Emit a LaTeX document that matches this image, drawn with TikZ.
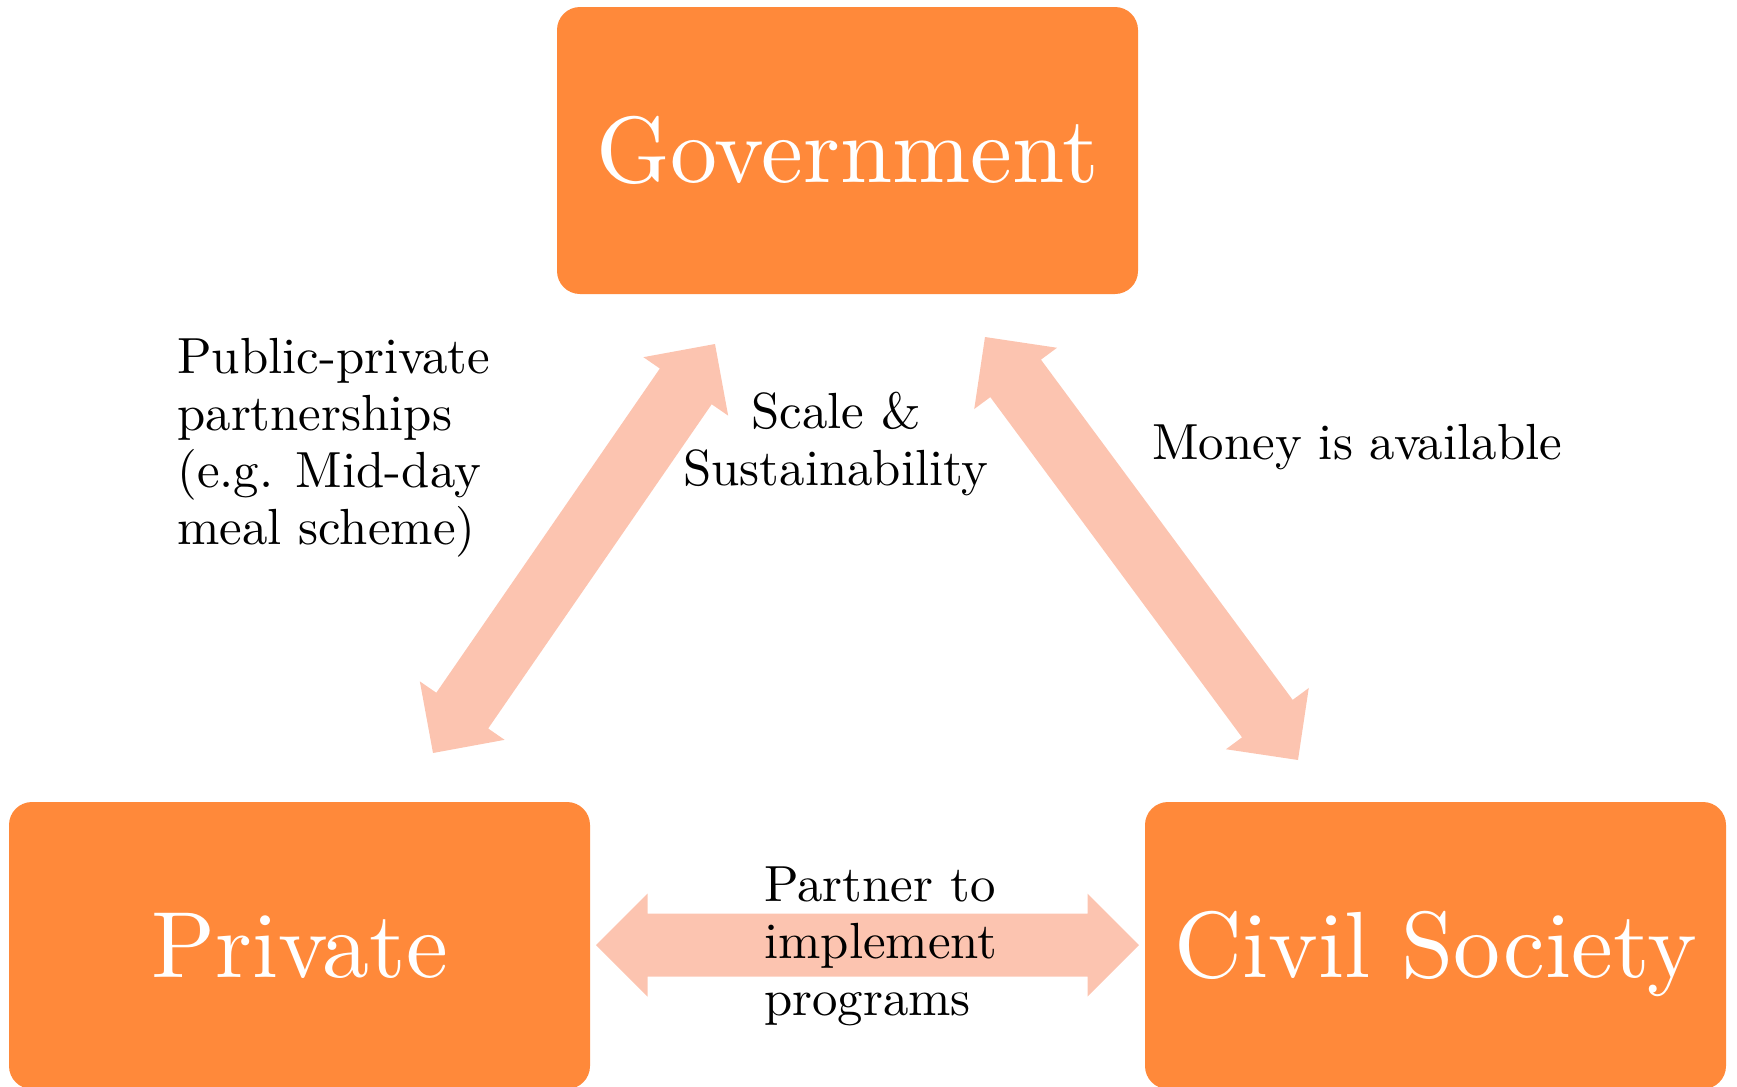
\documentclass[tikz,border=0pt]{standalone}
\usepackage{fontspec}
\setmainfont{lmroman10-regular.otf}
\usetikzlibrary{calc}
\definecolor{boxorange}{RGB}{255,137,58}
\definecolor{arrowpink}{RGB}{252,196,176}
% wide double-headed block arrow between two named coordinates
\newcommand\fatarrow[2]{%
  \coordinate (#1h) at ($(#1)!25.75pt!(#2)$);
  \coordinate (#2h) at ($(#2)!25.75pt!(#1)$);
  \fill[arrowpink] (#1)
    -- ($(#1h)!25.75pt!90:(#2)$) -- ($(#1h)!15.75pt!90:(#2)$)
    -- ($(#2h)!15.75pt!-90:(#1)$) -- ($(#2h)!25.75pt!-90:(#1)$)
    -- (#2)
    -- ($(#2h)!25.75pt!90:(#1)$) -- ($(#2h)!15.75pt!90:(#1)$)
    -- ($(#1h)!15.75pt!-90:(#2)$) -- ($(#1h)!25.75pt!-90:(#2)$)
    -- cycle;}
\begin{document}
\begin{tikzpicture}[x=0.5pt,y=-0.5pt,
  actor/.style={fill=boxorange, rounded corners=11.5pt,
    minimum width=290.5pt, minimum height=143.5pt, inner sep=0pt,
    text=white, font=\fontsize{47}{50}\selectfont,
    text height=32pt, text depth=0pt},
  note/.style={inner sep=0pt, font=\fontsize{25.4}{28.5}\selectfont}]
\useasboundingbox (0,0) rectangle (1737,1087);

% the three sectors
\node[actor] (gov)  at (847.5,150.5)  {Government};
\node[actor] (priv) at (299.5,945.5)  {Private};
\node[actor] (civ)  at (1435.5,945.5) {Civil Society};

% arrow end points
\coordinate (gp) at (715,344);
\coordinate (pg) at (433,753);
\coordinate (gc) at (985,337);
\coordinate (cg) at (1298,760);
\coordinate (pc) at (596,945);
\coordinate (cp) at (1139,945);

\fatarrow{gp}{pg}
\fatarrow{gc}{cg}
\fatarrow{pc}{cp}

% relationship labels (base anchor sits on the last line)
\node[note, anchor=base west, align=left] (ppp) at (177,544)
  {Public-private\\partnerships\\(e.g. Mid-day\\meal scheme)};
\node[note, anchor=base, align=center] (scale) at (836,485)
  {Scale \&\\Sustainability};
\node[note, anchor=base west] (money) at (1152,459) {Money is available};
\node[note, anchor=base west, align=left] (partner) at (764,1015)
  {Partner to\\implement\\programs};
\end{tikzpicture}
\end{document}
